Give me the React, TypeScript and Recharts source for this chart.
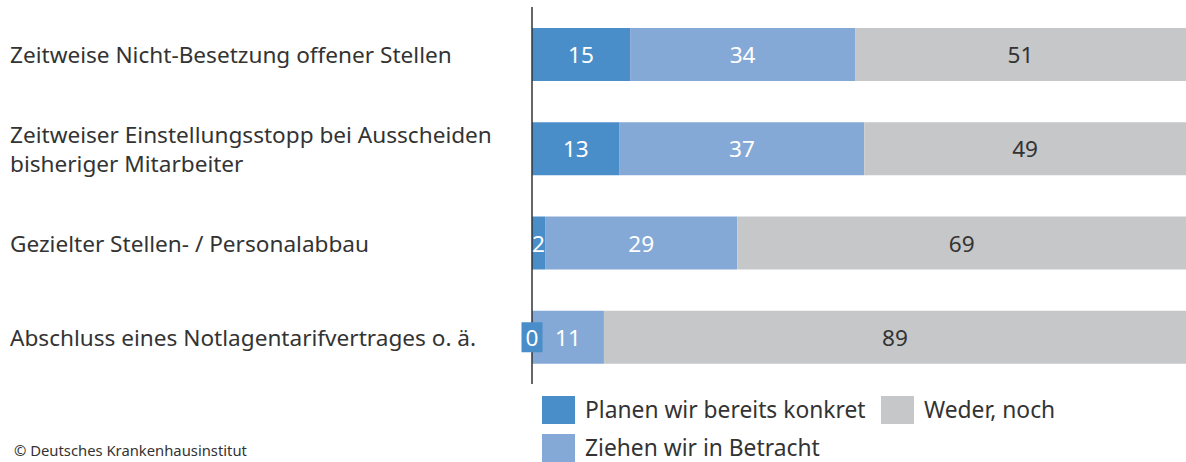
import { BarChart, Bar, XAxis, YAxis, Legend, LabelList } from 'recharts';

const categories = [
  'Zeitweise Nicht-Besetzung offener Stellen',
  'Zeitweiser Einstellungsstopp bei Ausscheiden\nbisheriger Mitarbeiter',
  'Gezielter Stellen- / Personalabbau',
  'Abschluss eines Notlagentarifvertrages o. ä.',
];
const planen = [15, 13.4, 2, 0];
const ziehen = [34.4, 37.4, 29.4, 11];
const weder = [50.6, 49.2, 68.6, 89];

const seriesNames = ['Planen wir bereits konkret', 'Ziehen wir in Betracht', 'Weder, noch'];
const colors = ['#4a8ec9', '#85a9d6', '#c6c7c9'];

const data = categories.map((name, i) => ({
  name,
  planen: planen[i],
  ziehen: ziehen[i],
  weder: weder[i],
}));

const FONT = '"Noto Sans", sans-serif';
const FS = 22.6;

const CategoryTick = ({ y, payload }: any) => {
  const lines = String(payload.value).split('\n');
  const lh = 29;
  const start = y - ((lines.length - 1) * lh) / 2;
  return (
    <text x={10} y={start} textAnchor="start" fill="#333" fontSize={FS} fontFamily={FONT} dominantBaseline="central">
      {lines.map((l, i) => (
        <tspan key={i} x={10} y={start + i * lh}>{l}</tspan>
      ))}
    </text>
  );
};

const makeLabel = (fill: string) => (props: any) => {
  const { x, y, width, height, value } = props;
  const cx = x + width / 2;
  const cy = y + height / 2;
  return (
    <text x={cx} y={cy} textAnchor="middle" dominantBaseline="central" fill={fill} fontSize={FS} fontFamily={FONT}>
      {String(Math.round(value))}
    </text>
  );
};

// zero-width "planen" segments are not drawn by the library, so their "0" label sits at the start of the next segment
const ziehenLabel = (props: any) => {
  const { x, y, width, height, value, index } = props;
  const cx = x + width / 2;
  const cy = y + height / 2;
  const zero = planen[index] === 0;
  return (
    <g>
      {zero ? (
        <g>
          <rect x={x - 10.5} y={cy - 15} width={21} height={30} fill={colors[0]} />
          <text x={x} y={cy} textAnchor="middle" dominantBaseline="central" fill="#fff" fontSize={FS} fontFamily={FONT}>0</text>
        </g>
      ) : null}
      <text x={cx} y={cy} textAnchor="middle" dominantBaseline="central" fill="#fff" fontSize={FS} fontFamily={FONT}>
        {String(Math.round(value))}
      </text>
    </g>
  );
};

const renderLegend = () => {
  const items = [
    { name: seriesNames[0], color: colors[0], left: 542, top: 396 },
    { name: seriesNames[2], color: colors[2], left: 881, top: 396 },
    { name: seriesNames[1], color: colors[1], left: 542, top: 434 },
  ];
  return (
    <div style={{ position: 'relative', width: 1186, height: 0 }}>
      {items.map((it) => (
        <div key={it.name} style={{ position: 'absolute', left: it.left, top: it.top, display: 'flex', alignItems: 'center' }}>
          <div style={{ width: 33, height: 28, background: it.color }} />
          <span style={{ marginLeft: 10, fontSize: 22.8, color: '#333', fontFamily: FONT, lineHeight: '28px', whiteSpace: 'nowrap' }}>{it.name}</span>
        </div>
      ))}
    </div>
  );
};

export default function App() {
  return (
    <div style={{ position: 'absolute', left: 0, top: 0, width: 1186, height: 462, background: '#fff' }}>
      <BarChart
        width={1186}
        height={462}
        data={data}
        layout="vertical"
        margin={{ top: 7, right: 0, left: 0, bottom: 78 }}
        barCategoryGap={0}
      >
        <XAxis type="number" domain={[0, 100]} hide />
        <YAxis
          type="category"
          dataKey="name"
          width={532}
          tickLine={false}
          axisLine={{ stroke: '#333', strokeWidth: 1.5 }}
          tick={<CategoryTick />}
          interval={0}
        />
        <Legend content={renderLegend} wrapperStyle={{ left: 0, top: 0, width: 1186, height: 0 }} />
        <Bar dataKey="planen" stackId="a" fill={colors[0]} barSize={53} isAnimationActive={false} name={seriesNames[0]}>
          <LabelList dataKey="planen" content={makeLabel('#fff')} />
        </Bar>
        <Bar dataKey="ziehen" stackId="a" fill={colors[1]} barSize={53} isAnimationActive={false} name={seriesNames[1]}>
          <LabelList dataKey="ziehen" content={ziehenLabel} />
        </Bar>
        <Bar dataKey="weder" stackId="a" fill={colors[2]} barSize={53} isAnimationActive={false} name={seriesNames[2]}>
          <LabelList dataKey="weder" content={makeLabel('#333')} />
        </Bar>
      </BarChart>
      <div style={{ position: 'absolute', left: 14, top: 440, fontSize: 14.8, color: '#333', fontFamily: FONT }}>
        © Deutsches Krankenhausinstitut
      </div>
    </div>
  );
}
